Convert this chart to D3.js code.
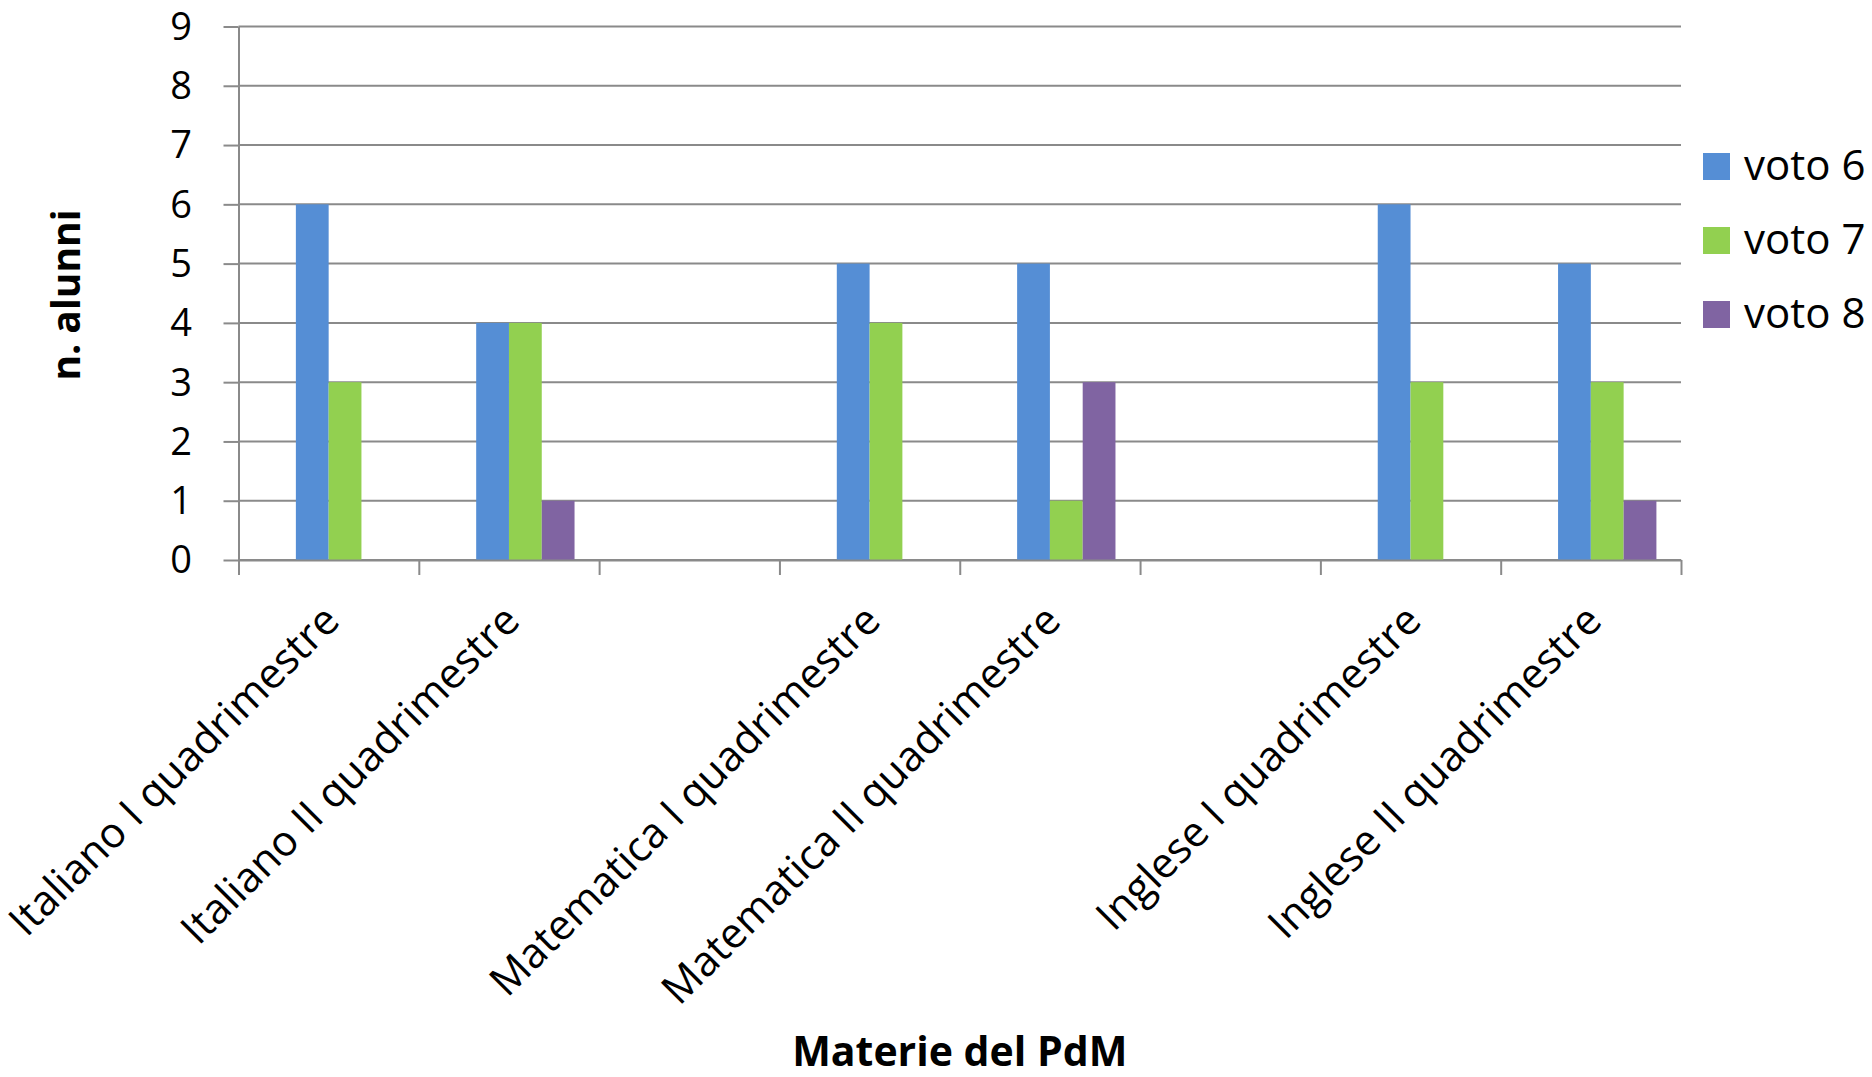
<!DOCTYPE html>
<html>
<head>
<meta charset="utf-8">
<script src="https://cdn.jsdelivr.net/npm/d3@7"></script>
<style>
  html, body { margin: 0; padding: 0; background: #ffffff; }
  svg { display: block; }
  text { font-family: "Open Sans", "Noto Sans", sans-serif; fill: #000; }
</style>
</head>
<body>
<svg id="chart" width="1872" height="1077"></svg>
<script>
// ---- data ----
const categories = [
  "Italiano I quadrimestre",
  "Italiano II quadrimestre",
  "",
  "Matematica I quadrimestre",
  "Matematica II quadrimestre",
  "",
  "Inglese I quadrimestre",
  "Inglese II quadrimestre"
];
const seriesNames = ["voto 6", "voto 7", "voto 8"];
const voto6 = [6, 4, null, 5, 5, null, 6, 5];
const voto7 = [3, 4, null, 4, 1, null, 3, 3];
const voto8 = [0, 1, null, 0, 3, null, 0, 1];
const seriesColors = ["#558ED5", "#92D050", "#8064A2"];
const yTicks = [0, 1, 2, 3, 4, 5, 6, 7, 8, 9];
const yTitle = "n. alunni";
const xTitle = "Materie del PdM";

const seriesValues = [voto6, voto7, voto8];

// ---- layout ----
const svg = d3.select("#chart");
const plotLeft = 238.5, plotRight = 1681, plotTop = 26.5, plotBottom = 560;
const gridColor = "#8A8A8A";

const y = d3.scaleLinear().domain([0, 9]).range([plotBottom, plotTop]);
const x0 = d3.scaleBand().domain(d3.range(categories.length)).range([plotLeft, plotRight]).padding(0);
// four slots per category: first slot is empty (kept for Excel-like spacing)
const x1 = d3.scaleBand().domain(["_", ...seriesNames]).range([0, x0.bandwidth()]).paddingInner(0).paddingOuter(0.75);
const xEdges = d3.scaleLinear().domain([0, categories.length]).range([plotLeft, plotRight]);

// gridlines
svg.append("g")
  .selectAll("line")
  .data(yTicks)
  .join("line")
  .attr("x1", plotLeft).attr("x2", plotRight)
  .attr("y1", d => y(d)).attr("y2", d => y(d))
  .attr("stroke", gridColor).attr("stroke-width", 2);

// bars
const rows = [];
categories.forEach((c, i) => {
  seriesNames.forEach((s, j) => {
    const v = seriesValues[j][i];
    if (v != null && v > 0) rows.push({ i, s, v, color: seriesColors[j] });
  });
});
svg.append("g")
  .selectAll("rect")
  .data(rows)
  .join("rect")
  .attr("x", d => x0(d.i) + x1(d.s))
  .attr("width", x1.bandwidth())
  .attr("y", d => y(d.v))
  .attr("height", d => y(0) - y(d.v))
  .attr("fill", d => d.color);

// y axis
const yAxis = svg.append("g")
  .attr("transform", `translate(${plotLeft},0)`)
  .call(d3.axisLeft(y).tickValues(yTicks).tickFormat(d3.format("d")).tickSize(15).tickPadding(31.5).tickSizeOuter(0));
yAxis.select(".domain").attr("stroke", gridColor).attr("stroke-width", 2);
yAxis.selectAll(".tick line").attr("stroke", gridColor).attr("stroke-width", 2);
yAxis.selectAll(".tick text")
  .attr("font-size", 38)
  .attr("font-family", "'Open Sans', sans-serif")
  .attr("fill", "#000")
  .attr("dy", "0.34em");

// x axis (ticks on category boundaries)
const xAxis = svg.append("g")
  .attr("transform", `translate(0,${plotBottom})`)
  .call(d3.axisBottom(xEdges).tickValues(d3.range(categories.length + 1)).tickFormat("").tickSize(15).tickSizeOuter(0));
xAxis.select(".domain").attr("stroke", gridColor).attr("stroke-width", 2);
xAxis.selectAll(".tick line").attr("stroke", gridColor).attr("stroke-width", 2);

// category labels rotated -45
svg.append("g")
  .selectAll("text")
  .data(categories.map((c, i) => ({ c, i })).filter(d => d.c !== ""))
  .join("text")
  .attr("transform", d => `translate(${x0(d.i) + x0.bandwidth() / 2 + 5},615) rotate(-45)`)
  .attr("text-anchor", "end")
  .attr("dy", "0.27em")
  .attr("font-size", 42)
  .text(d => d.c);

// axis titles
svg.append("text")
  .attr("transform", "translate(80,295) rotate(-90)")
  .attr("text-anchor", "middle")
  .attr("font-size", 39)
  .attr("font-weight", "bold")
  .text(yTitle);

svg.append("text")
  .attr("x", (plotLeft + plotRight) / 2)
  .attr("y", 1066)
  .attr("text-anchor", "middle")
  .attr("font-size", 41)
  .attr("font-weight", "bold")
  .text(xTitle);

// legend
const legend = svg.append("g")
  .selectAll("g")
  .data(seriesNames)
  .join("g")
  .attr("transform", (d, i) => `translate(1703,${153 + i * 74})`);
legend.append("rect")
  .attr("width", 27).attr("height", 27)
  .attr("fill", (d, i) => seriesColors[i]);
legend.append("text")
  .attr("x", 41).attr("y", 27)
  .attr("font-size", 42)
  .text(d => d);
</script>
</body>
</html>
